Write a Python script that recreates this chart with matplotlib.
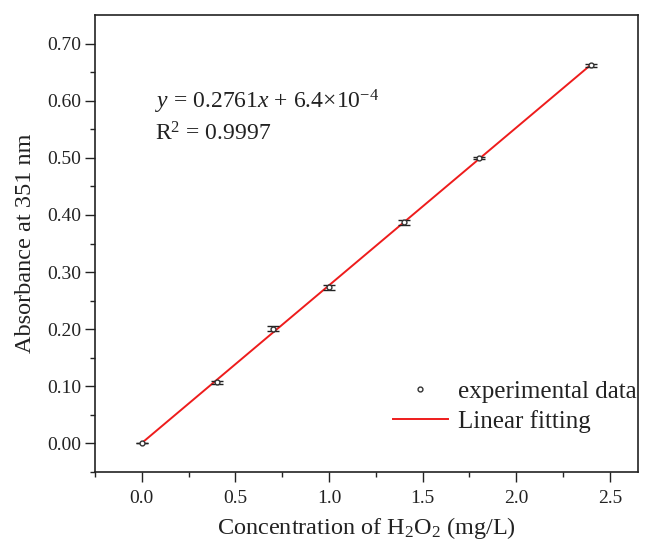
import matplotlib
matplotlib.use("Agg")
import matplotlib.pyplot as plt
from matplotlib.lines import Line2D
import numpy as np

plt.rcParams["font.family"] = ["Liberation Serif", "DejaVu Serif"]
plt.rcParams["mathtext.fontset"] = "custom"
plt.rcParams["mathtext.rm"] = "Liberation Serif"
plt.rcParams["mathtext.it"] = "Liberation Serif:italic"

# Calibration data for H2O2
conc = [0.0, 0.4, 0.7, 1.0, 1.4, 1.8, 2.4]
absorbance = [0.000, 0.107, 0.201, 0.273, 0.387, 0.500, 0.662]
abs_err = [0.000, 0.003, 0.005, 0.004, 0.004, 0.002, 0.003]

slope = 0.2761
intercept = 6.4e-4

ink = "#222222"

fig = plt.figure(figsize=(6.5, 5.41), dpi=100)
ax = fig.add_axes([0.146, 0.1275, 0.8355, 0.8448])

fit_x = np.array([conc[0], conc[-1]])
fit_y = slope * fit_x + intercept

ax.errorbar(conc, absorbance, yerr=abs_err, fmt="o", ms=3.5, mfc="white",
            mec="#333333", mew=1.0, ecolor=ink, elinewidth=1.0,
            capsize=4, capthick=1.0, zorder=3)
ax.plot(fit_x, fit_y, color="#ee1c1c", lw=1.4, zorder=2)

ax.set_xlim(-0.25, 2.65)
ax.set_ylim(-0.05, 0.75)
ax.set_xticks([0.0, 0.5, 1.0, 1.5, 2.0, 2.5])
ax.set_xticklabels(["0.0", "0.5", "1.0", "1.5", "2.0", "2.5"])
ax.set_yticks([0.0, 0.1, 0.2, 0.3, 0.4, 0.5, 0.6, 0.7])
ax.set_yticklabels(["0.00", "0.10", "0.20", "0.30", "0.40", "0.50", "0.60", "0.70"])
ax.set_xticks(np.arange(-0.25, 2.65, 0.25), minor=True)
ax.set_yticks(np.arange(-0.05, 0.75, 0.05), minor=True)

ax.tick_params(which="major", direction="out", length=7, width=1.0,
               labelsize=14, colors=ink)
ax.tick_params(axis="y", which="major", pad=3)
ax.tick_params(axis="x", which="major", pad=6)
ax.tick_params(which="minor", direction="out", length=3.5, width=1.0, colors=ink)
for s in ax.spines.values():
    s.set_linewidth(1.2)
    s.set_color(ink)

ax.set_xlabel("Concentration of H$_2$O$_2$ (mg/L)", fontsize=17.5, labelpad=6, color=ink)
ax.set_ylabel("Absorbance at 351 nm", fontsize=17.5, labelpad=8, color=ink)

ax.text(0.07, 0.597, r"$y$ = 0.2761$x$ + 6.4$\times$10$^{-4}$", fontsize=17,
        va="center", ha="left", color=ink)
ax.text(0.07, 0.542, r"R$^2$ = 0.9997", fontsize=17, va="center", ha="left", color=ink)

handles = [
    Line2D([], [], ls="none", marker="o", ms=3.5, mfc="white", mec="#333333", mew=1.0),
    Line2D([], [], color="#ee1c1c", lw=1.4),
]
labels = ["experimental data", "Linear fitting"]
leg = ax.legend(handles, labels, loc="lower right", bbox_to_anchor=(1.02, 0.058),
                frameon=False, fontsize=18, handlelength=2.2, handletextpad=0.4,
                labelspacing=0.3, borderaxespad=0.1)
for t in leg.get_texts():
    t.set_color(ink)

fig.savefig("out.png", dpi=100)
